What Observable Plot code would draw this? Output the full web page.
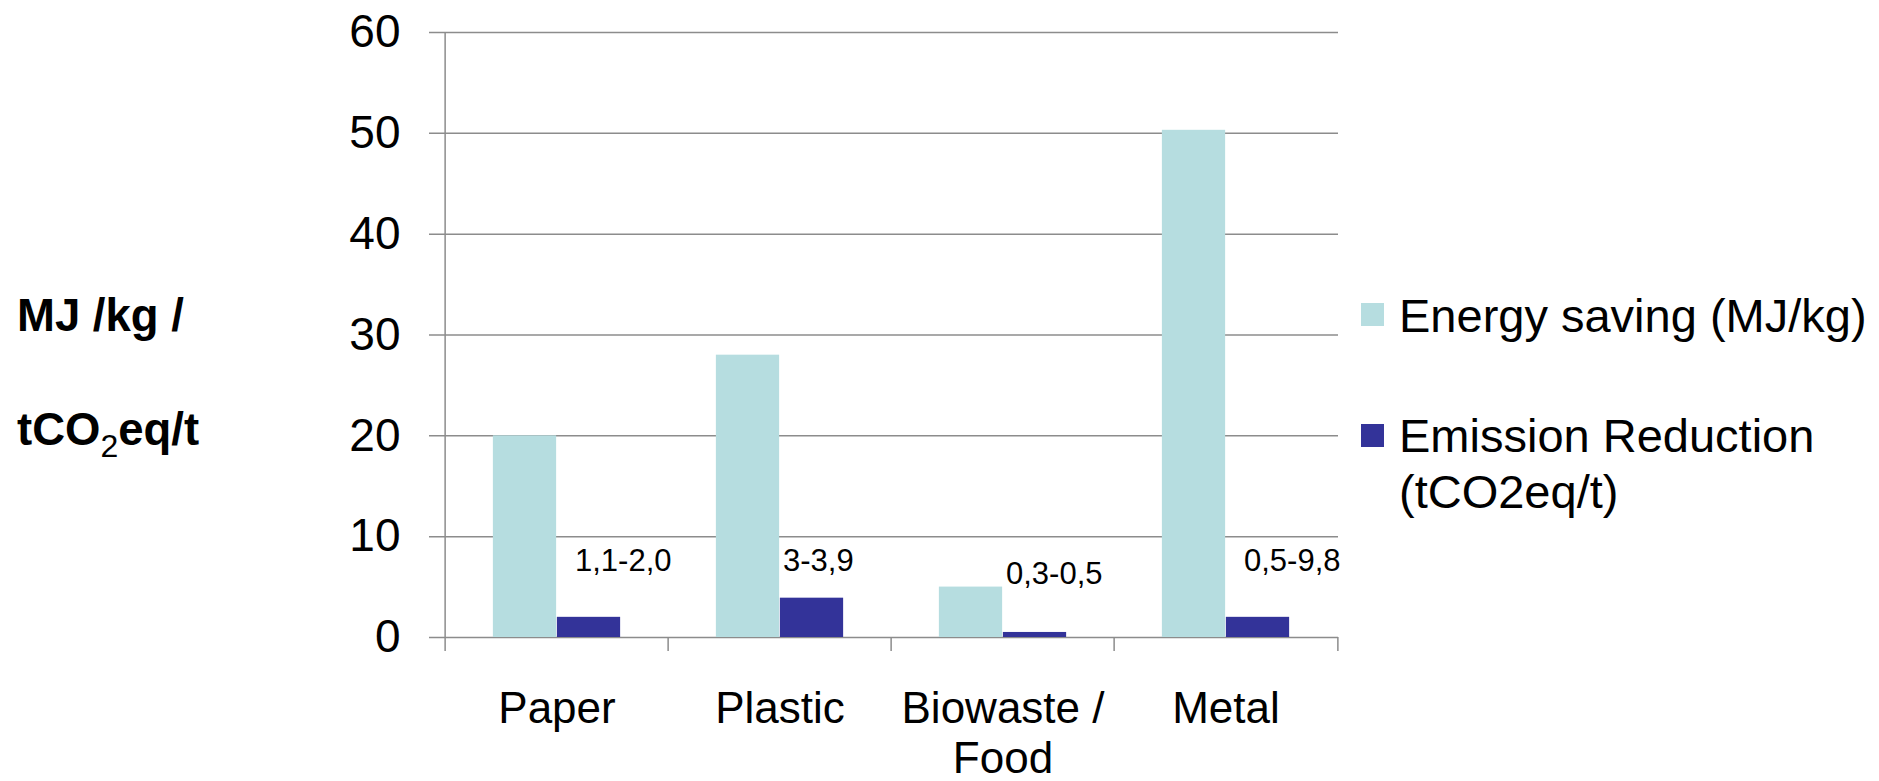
<!DOCTYPE html>
<html>
<head>
<meta charset="utf-8">
<script src="https://cdn.jsdelivr.net/npm/d3@7"></script>
<script src="https://cdn.jsdelivr.net/npm/@observablehq/plot@0.6"></script>
<style>
  html, body { margin: 0; padding: 0; background: #fff; }
  #chart { position: relative; width: 1879px; height: 781px; font-family: "Liberation Sans", Arial, sans-serif; color: #000; }
  #chart svg { position: absolute; left: 0; top: 0; }
  .ytitle { position: absolute; left: 17px; font-weight: bold; font-size: 45.5px; line-height: 45.5px; white-space: nowrap; }
  .ytitle .sub { font-size: 32px; font-weight: normal; position: relative; top: 12px; }
  .legend-swatch { position: absolute; left: 1361px; width: 23px; height: 23px; }
  .legend-text { position: absolute; left: 1399px; font-size: 47px; white-space: nowrap; }
</style>
</head>
<body>
<div id="chart"></div>
<script>
// Recycling benefits per material stream
const categories = ["Paper", "Plastic", "Biowaste / Food", "Metal"];
const categoryLabels = ["Paper", "Plastic", "Biowaste /\nFood", "Metal"];
const energySaving = [20, 28, 5, 50.3];          // MJ/kg
const emissionReduction = [2.0, 3.9, 0.5, 2.0];  // tCO2eq/t
const emissionRanges = ["1,1-2,0", "3-3,9", "0,3-0,5", "0,5-9,8"];
const yTicks = [0, 10, 20, 30, 40, 50, 60];
const seriesNames = ["Energy saving (MJ/kg)", "Emission Reduction (tCO2eq/t)"];
const seriesColors = ["#b6dde0", "#333399"];

const rows = categories.map((c, i) => ({
  category: c,
  label: categoryLabels[i],
  energy: energySaving[i],
  emission: emissionReduction[i],
  range: emissionRanges[i]
}));

const W = 1879, H = 781;
const marginLeft = 443, marginRight = 541, marginTop = 32, marginBottom = 144;
const band = (W - marginLeft - marginRight) / categories.length;
const barW = 64;
const gridColor = "#8c8c8c";

// range labels float above the bar pair; the short biowaste pair gets a lower label
const rangeLabelY = (d) => d.energy < 10 ? 5.35 : 6.6;
// labels whose text box was nudged further right
const wideLabel = (d) => d.category === "Paper" || d.category === "Metal";

const rangeStyle = {x: "category", y: rangeLabelY, text: "range", textAnchor: "start", lineAnchor: "bottom", fontSize: 31, fill: "#000"};

const svg = Plot.plot({
  width: W,
  height: H,
  marginLeft, marginRight, marginTop, marginBottom,
  x: {domain: categories, padding: 0, axis: null},
  y: {domain: [0, 60], axis: null},
  style: {fontFamily: "'Liberation Sans', Arial, sans-serif", background: "transparent", color: "#000", overflow: "visible"},
  marks: [
    // horizontal gridlines with their short outer ticks
    Plot.ruleY(yTicks, {stroke: gridColor, strokeWidth: 1.5, insetLeft: -14}),
    // y tick labels
    Plot.text(yTicks, {y: (d) => d, text: (d) => String(d), frameAnchor: "left", textAnchor: "end", dx: -43, fontSize: 46, fill: "#000"}),
    // grouped bars
    Plot.barY(rows, {x: "category", y: "energy", fill: seriesColors[0], insetLeft: band / 2 - barW, insetRight: band / 2}),
    Plot.barY(rows, {x: "category", y: "emission", fill: seriesColors[1], insetLeft: band / 2, insetRight: band / 2 - barW}),
    // value axis line
    Plot.ruleX([categories[0]], {x: (d) => d, y1: 60, y2: 0, insetBottom: -14, dx: -band / 2, stroke: gridColor, strokeWidth: 1.5}),
    // category boundary ticks
    Plot.ruleX(categories.slice(1), {x: (d) => d, y1: 0, y2: 0, insetBottom: -14, dx: -band / 2, stroke: gridColor, strokeWidth: 1.5}),
    Plot.ruleX([categories[categories.length - 1]], {x: (d) => d, y1: 0, y2: 0, insetBottom: -14, dx: band / 2, stroke: gridColor, strokeWidth: 1.5}),
    // category labels
    Plot.text(rows, {x: "category", text: "label", frameAnchor: "bottom", lineAnchor: "top", dy: 50, fontSize: 44, lineHeight: 1.13, fill: "#000"}),
    // emission range labels
    Plot.text(rows, {...rangeStyle, filter: wideLabel, dx: 18}),
    Plot.text(rows, {...rangeStyle, filter: (d) => !wideLabel(d), dx: 3})
  ]
});

const chart = document.getElementById("chart");
chart.appendChild(svg);

// value axis title
const t1 = document.createElement("div");
t1.className = "ytitle";
t1.style.top = "293px";
t1.textContent = "MJ /kg /";
chart.appendChild(t1);
const t2 = document.createElement("div");
t2.className = "ytitle";
t2.style.top = "407px";
t2.innerHTML = 'tCO<span class="sub">2</span>eq/t';
chart.appendChild(t2);

// legend
const legendRows = [
  {name: seriesNames[0], color: seriesColors[0], swatchTop: 303, textTop: 292, lines: ["Energy saving (MJ/kg)"]},
  {name: seriesNames[1], color: seriesColors[1], swatchTop: 424, textTop: 408, lines: ["Emission Reduction", "(tCO2eq/t)"]}
];
for (const r of legendRows) {
  const sw = document.createElement("div");
  sw.className = "legend-swatch";
  sw.style.top = r.swatchTop + "px";
  sw.style.background = r.color;
  chart.appendChild(sw);
  const tx = document.createElement("div");
  tx.className = "legend-text";
  tx.style.top = r.textTop + "px";
  tx.style.lineHeight = r.lines.length > 1 ? "56px" : "47px";
  tx.innerHTML = r.lines.join("<br>");
  chart.appendChild(tx);
}
</script>
</body>
</html>
